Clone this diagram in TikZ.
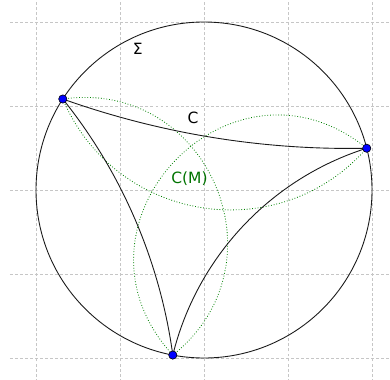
\documentclass[tikz,border=0pt]{standalone}
\usepackage{fontspec}
\setmainfont{DejaVu Sans}
\begin{document}
\begin{tikzpicture}[x=2cm,y=2cm,
  gridline/.style={draw=gray!45, line width=0.6pt, dash pattern=on 2pt off 1.4pt},
  geo/.style={draw=black!90, line width=0.6pt},
  hyper/.style={draw=green!50!black, line width=0.55pt, dash pattern=on 0.55pt off 1.3pt},
  vtx/.style={circle, fill=blue, draw=black, line width=0.4pt, inner sep=0pt, minimum size=5.6pt},
  lbl/.style={font=\fontsize{10.5}{12}\selectfont, inner sep=0pt}]
\useasboundingbox (-2.4286,-2.2619) rectangle (2.2143,2.2619);
\begin{scope}
  \clip (-2.4286,-2.2619) rectangle (2.2143,2.2619);
  \draw[gridline, step=2cm] (-2.31,-2.4) grid (2.4,2.4);
\end{scope}
\draw[geo] (0,0) circle (2);
\coordinate (L) at (147.2:2);
\coordinate (R) at (14.4:2);
\coordinate (B) at (259.3:2);
\draw[hyper] (L) to[out=8.03,in=38.48,looseness=1.349] (B);
\draw[hyper] (R) to[out=141.15,in=132.55,looseness=1.584] (B);
\draw[hyper] (L) to[out=292.93,in=228.67,looseness=1.112] (R);
\draw[geo] (L) to[out=340.41,in=181.25,looseness=0.8585] (R);
\draw[geo] (R) to[out=197.55,in=76.15,looseness=0.91] (B);
\draw[geo] (L) to[out=-51.24,in=97.76,looseness=0.867] (B);
\node[vtx] (Lv) at (L) {};
\node[vtx] (Rv) at (R) {};
\node[vtx] (Bv) at (B) {};
\node[lbl] (sigma) at (-0.789,1.681) {Σ};
\node[lbl] (c) at (-0.131,0.857) {C};
\node[lbl, text=green!45!black] (cm) at (-0.173,0.131) {C(M)};
\end{tikzpicture}
\end{document}
